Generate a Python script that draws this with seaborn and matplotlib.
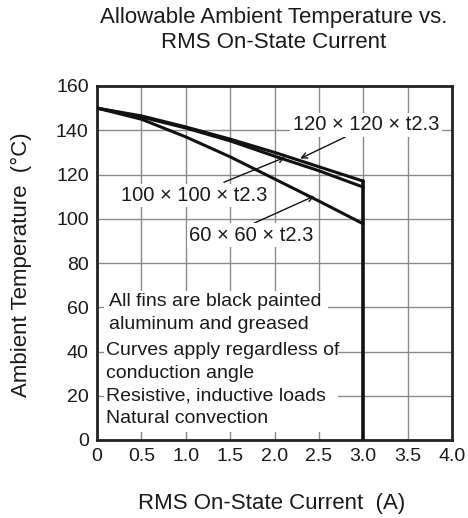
import matplotlib
matplotlib.use("Agg")
import matplotlib.pyplot as plt
import seaborn as sns
import pandas as pd
from matplotlib.patches import Rectangle

current = [0, 0.5, 1.0, 1.5, 2.0, 2.5, 3.0]
temp_120 = [150, 146.5, 141.5, 136, 130, 123.5, 117]
temp_100 = [150, 146, 141, 135.2, 128.3, 121.7, 114.3]
temp_60 = [150, 145, 137, 128, 118, 108, 97.7]
series_names = ["120 × 120 × t2.3", "100 × 100 × t2.3", "60 × 60 × t2.3"]
x_ticks = [0, 0.5, 1.0, 1.5, 2.0, 2.5, 3.0, 3.5, 4.0]
x_tick_labels = ["0", "0.5", "1.0", "1.5", "2.0", "2.5", "3.0", "3.5", "4.0"]
y_ticks = [0, 20, 40, 60, 80, 100, 120, 140, 160]
notes = ["All fins are black painted", "aluminum and greased",
         "Curves apply regardless of", "conduction angle",
         "Resistive, inductive loads", "Natural convection"]

sns.set_theme(style="white")
plt.rcParams["font.family"] = ["Liberation Sans", "DejaVu Sans"]
TXT = "#1a1a1a"

df = pd.DataFrame({
    "current": current * 3,
    "temp": temp_120 + temp_100 + temp_60,
    "fin": [series_names[0]] * 7 + [series_names[1]] * 7 + [series_names[2]] * 7,
})

fig = plt.figure(figsize=(4.68, 5.18), dpi=100)
ax = fig.add_axes([97 / 468, 1 - 440 / 518, 355 / 468, 354 / 518])

sns.lineplot(data=df, x="current", y="temp", units="fin", estimator=None,
             color="#111111", linewidth=2.2, ax=ax, zorder=5, legend=False)
ax.plot([3.0, 3.0], [0, temp_120[-1]], color="#111111", linewidth=2.6, zorder=5)

ax.set_xlim(0, 4.0)
ax.set_ylim(0, 160)
ax.set_xticks(x_ticks)
ax.set_xticklabels(x_tick_labels)
ax.set_yticks(y_ticks)
ax.tick_params(axis="both", length=0, labelsize=14, colors=TXT, pad=6)
ax.grid(True, color="#8a8a8a", linewidth=1.0, zorder=0)
ax.set_axisbelow(True)
for s in ax.spines.values():
    s.set_color("#222222")
    s.set_linewidth(2.0)
    s.set_visible(True)

# white boxes behind notes
ax.add_patch(Rectangle((0.08, 46), 2.52, 21.5, facecolor="white", edgecolor="none", zorder=2))
ax.add_patch(Rectangle((0.08, 3.5), 2.64, 42.5, facecolor="white", edgecolor="none", zorder=2))

note_x = [0.14, 0.14, 0.1, 0.1, 0.1, 0.1]
note_y = [62.5, 52.3, 40.5, 30.2, 20.0, 9.7]
for t, nx, ny in zip(notes, note_x, note_y):
    ax.text(nx, ny, t, fontsize=14, color=TXT, ha="left", va="center", zorder=6)

bb = dict(boxstyle="square,pad=0.12", facecolor="white", edgecolor="none")
arrow = dict(arrowstyle="->", color="#111111", lw=1.0, shrinkA=0, shrinkB=0,
             mutation_scale=10)

ax.annotate("", xy=(2.29, 127.2), xytext=(2.8, 137.0), arrowprops=arrow, zorder=4)
ax.annotate("", xy=(2.12, 127.8), xytext=(1.43, 116.5), arrowprops=arrow, zorder=4)
ax.annotate("", xy=(2.45, 110.3), xytext=(1.77, 98.0), arrowprops=arrow, zorder=4)

ax.text(3.03, 142.4, series_names[0], fontsize=14.5, color=TXT, ha="center",
        va="center", bbox=bb, zorder=6)
ax.text(1.09, 110.5, series_names[1], fontsize=14.5, color=TXT, ha="center",
        va="center", bbox=bb, zorder=6)
ax.text(1.74, 92.5, series_names[2], fontsize=14.5, color=TXT, ha="center",
        va="center", bbox=bb, zorder=6)

ax.set_xlabel("")
ax.set_ylabel("")
fig.text(274 / 468, 1 - 18 / 518, "Allowable Ambient Temperature vs.", fontsize=16,
         color=TXT, ha="center", va="center")
fig.text(274 / 468, 1 - 43 / 518, "RMS On-State Current", fontsize=16,
         color=TXT, ha="center", va="center")
fig.text(272 / 468, 1 - 503 / 518, "RMS On-State Current  (A)", fontsize=16,
         color=TXT, ha="center", va="center")
fig.text(21 / 468, 1 - 265 / 518, "Ambient Temperature  (°C)", fontsize=16,
         color=TXT, ha="center", va="center", rotation=90)

fig.savefig("out.png", dpi=100, facecolor="white")
